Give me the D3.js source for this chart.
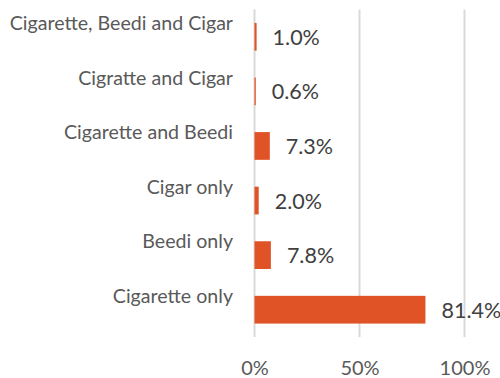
<!DOCTYPE html>
<html>
<head>
<meta charset="utf-8">
<script src="https://cdn.jsdelivr.net/npm/d3@7"></script>
<style>
  html, body { margin: 0; padding: 0; background: #fff; }
  svg { display: block; }
  text { font-family: Lato, "Open Sans", sans-serif; }
</style>
</head>
<body>
<div id="chart"></div>
<script>
// Tobacco product use, share of users (%)
const categories = [
  "Cigarette, Beedi and Cigar",
  "Cigratte and Cigar",
  "Cigarette and Beedi",
  "Cigar only",
  "Beedi only",
  "Cigarette only"
];
const values = [1.0, 0.6, 7.3, 2.0, 7.8, 81.4];
const tickValues = [0, 50, 100];
const tickLabels = ["0%", "50%", "100%"];

const W = 500, H = 378;
const plot = { left: 254.5, right: 464.5, top: 9.5, bottom: 337 };

const svg = d3.select("#chart").append("svg")
  .attr("width", W).attr("height", H);

const x = d3.scaleLinear().domain([0, 100]).range([plot.left, plot.right]);
const y = d3.scaleBand().domain(categories)
  .range([plot.top, plot.bottom])
  .paddingInner(0.492).paddingOuter(0.246);

// vertical gridlines (the 0% line doubles as the axis)
svg.append("g").selectAll("line").data(tickValues).join("line")
  .attr("x1", d => x(d)).attr("x2", d => x(d))
  .attr("y1", plot.top).attr("y2", plot.bottom)
  .attr("stroke", "#d9d9d9").attr("stroke-width", 2);

// x-axis tick labels
const axis = d3.axisBottom(x).tickValues(tickValues)
  .tickFormat((d, i) => tickLabels[i]).tickSize(0).tickPadding(0);
const gx = svg.append("g").attr("transform", `translate(0,${plot.bottom})`).call(axis);
gx.select(".domain").remove();
gx.selectAll("text")
  .attr("y", 38).attr("dy", null)
  .style("font-family", "Lato, 'Open Sans', sans-serif")
  .style("font-size", "20px").attr("fill", "#595959");

// bars
svg.append("g").selectAll("rect").data(values).join("rect")
  .attr("x", x(0))
  .attr("y", (d, i) => y(categories[i]))
  .attr("width", d => x(d) - x(0))
  .attr("height", y.bandwidth())
  .attr("fill", "#e05327");

// category labels
svg.append("g").selectAll("text").data(categories).join("text")
  .attr("x", 233)
  .attr("y", d => y(d) + y.bandwidth() / 2 - 6.8)
  .attr("text-anchor", "end")
  .attr("fill", "#595959")
  .style("font-size", "19.6px")
  .text(d => d);

// value labels
svg.append("g").selectAll("text").data(values).join("text")
  .attr("x", d => x(d) + 16)
  .attr("y", (d, i) => y(categories[i]) + y.bandwidth() / 2 + 8)
  .attr("fill", "#404040")
  .style("font-size", "21.5px")
  .text(d => d.toFixed(1) + "%");
</script>
</body>
</html>
